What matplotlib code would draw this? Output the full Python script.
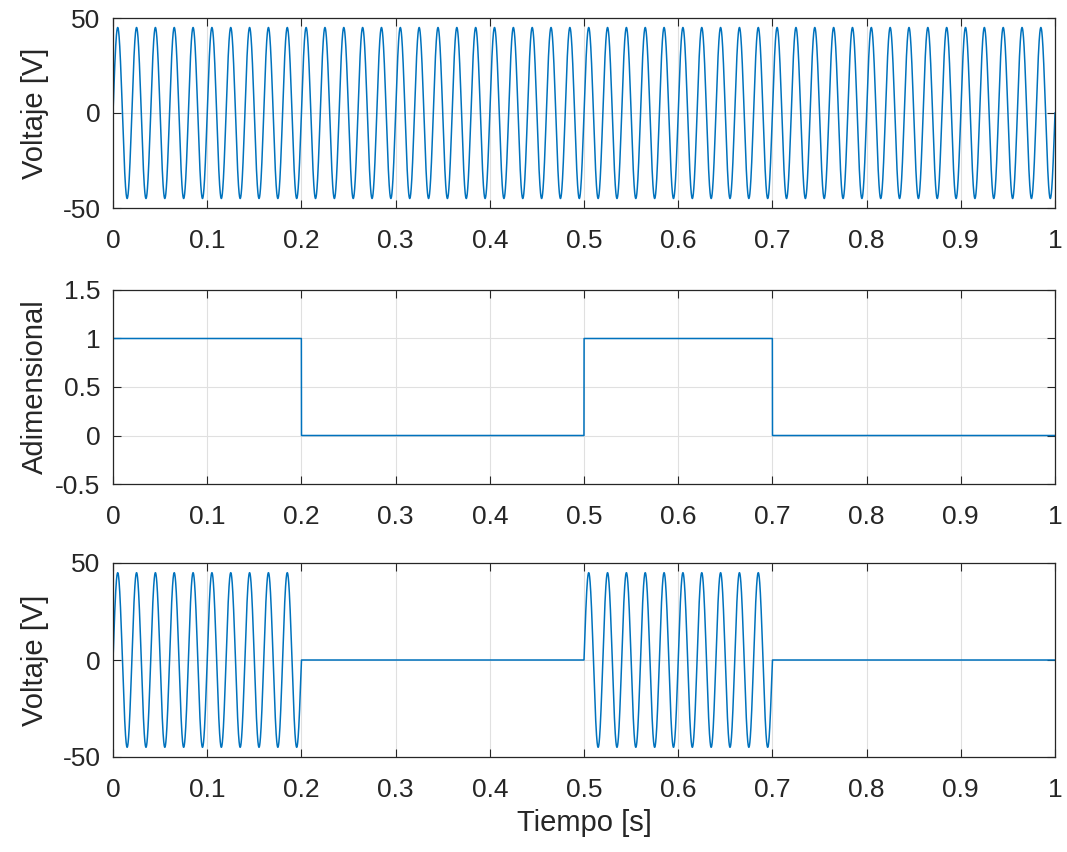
import numpy as np
import matplotlib.pyplot as plt

# signal parameters
amplitude = 45.0          # V
frequency = 50.0          # Hz
t_end = 1.0
n_samples = 20001

# gate signal breakpoints (time, level)
gate_times = [0.0, 0.2, 0.5, 0.7, 1.0]
gate_levels = [1, 0, 1, 0, 0]

x_ticks = [0, 0.1, 0.2, 0.3, 0.4, 0.5, 0.6, 0.7, 0.8, 0.9, 1]
x_ticklabels = ["0", "0.1", "0.2", "0.3", "0.4", "0.5", "0.6", "0.7", "0.8", "0.9", "1"]
v_ticks = [-50, 0, 50]
v_ticklabels = ["-50", "0", "50"]
g_ticks = [-0.5, 0, 0.5, 1, 1.5]
g_ticklabels = ["-0.5", "0", "0.5", "1", "1.5"]

t = np.linspace(0, t_end, n_samples)
v = amplitude * np.sin(2 * np.pi * frequency * t)
gate = np.zeros_like(t)
for i in range(len(gate_times) - 1):
    mask = (t >= gate_times[i]) & (t < gate_times[i + 1])
    gate[mask] = gate_levels[i]
gate[-1] = gate_levels[-1]
v_out = v * gate

plt.rcParams["font.family"] = ["Liberation Sans", "DejaVu Sans"]
line_color = "#0072BD"
axis_color = "#262626"

fig = plt.figure(figsize=(10.67, 8.52), dpi=100)
W, H = 1067, 852
# axes boxes in pixels (left, top, right, bottom)
boxes = [(113, 18, 1055, 208), (113, 290, 1055, 484), (113, 563, 1055, 757)]
axes = []
for (x0, y0, x1, y1) in boxes:
    ax = fig.add_axes([x0 / W, 1 - y1 / H, (x1 - x0) / W, (y1 - y0) / H])
    axes.append(ax)

axes[0].plot(t, v, color=line_color, lw=1.1)
axes[1].plot(t, gate, color=line_color, lw=1.1)
axes[2].plot(t, v_out, color=line_color, lw=1.1)

for ax, (x0, y0, x1, y1) in zip(axes, boxes):
    ax.set_xlim(0, 1)
    ax.set_xticks(x_ticks)
    ax.set_xticklabels(x_ticklabels)
    ax.grid(True, color="#e0e0e0", lw=0.8)
    ax.set_axisbelow(True)
    ax.tick_params(direction="in", top=True, right=True, labelsize=19,
                   colors=axis_color, length=6)
    ax.tick_params(axis="x", pad=15)
    ax.tick_params(axis="y", pad=9)
    for s in ax.spines.values():
        s.set_color(axis_color)
        s.set_linewidth(0.9)
    # y label centred at x = 35 px
    ax.yaxis.set_label_coords((35 - x0) / (x1 - x0), 0.5)

for ax in (axes[0], axes[2]):
    ax.set_ylim(-50, 50)
    ax.set_yticks(v_ticks)
    ax.set_yticklabels(v_ticklabels)
    ax.set_ylabel("Voltaje [V]", fontsize=21, color=axis_color, va="center")

axes[1].set_ylim(-0.5, 1.5)
axes[1].set_yticks(g_ticks)
axes[1].set_yticklabels(g_ticklabels)
axes[1].set_ylabel("Adimensional", fontsize=21, color=axis_color, va="center")

axes[2].set_xlabel("Tiempo [s]", fontsize=21, color=axis_color, labelpad=5)

fig.savefig("out.png", dpi=100)
